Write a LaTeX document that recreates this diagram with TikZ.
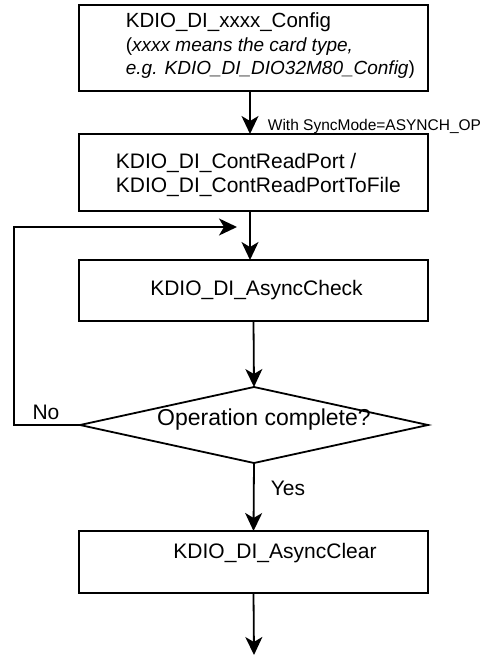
\documentclass[tikz,border=0pt]{standalone}
\usepackage{fontspec}
\setmainfont{Liberation Sans}
\usetikzlibrary{arrows.meta,shapes.geometric}
\begin{document}
\begin{tikzpicture}[x=1pt,y=1pt,
  line width=1.8pt,
  box/.style={draw,rectangle,minimum width=349pt,inner sep=0pt,outer sep=0pt},
  dec/.style={draw,diamond,minimum width=348pt,minimum height=76pt,inner sep=0pt,outer sep=0pt},
  txt/.style={inner sep=0pt,font=\fontsize{21}{24}\selectfont},
  arr/.style={-{Stealth[length=18pt,width=17pt,inset=5pt]}}]
\useasboundingbox (0,0) rectangle (483,-655);
% boxes
\node[box,minimum height=86pt] (b1) at (253.5,-48) {};
\node[box,minimum height=77pt] (b2) at (253.5,-172.5) {};
\node[box,minimum height=61pt] (b3) at (253.5,-290.5) {};
\node[dec] (d) at (254,-425) {};
\node[box,minimum height=62pt] (b4) at (253.5,-562) {};
\coordinate (end) at (254,-655);
\coordinate (fb) at (237,-227);
% texts
\node[txt,anchor=west,align=left,font=\fontsize{20.5}{23.5}\selectfont] (t1) at (125,-46)
  {KDIO\_DI\_xxxx\_Config\\{\fontsize{19}{23.5}\selectfont(\textit{xxxx means the card type,}}\\{\fontsize{19}{23.5}\selectfont\textit{e.g. KDIO\_DI\_DIO32M80\_Config})}};
\node[txt,anchor=west,align=left] (t2) at (115,-175)
  {KDIO\_DI\_ContReadPort /\\KDIO\_DI\_ContReadPortToFile};
\node[txt] (t3) at (256.5,-290) {KDIO\_DI\_AsyncCheck};
\node[txt,font=\fontsize{23}{26}\selectfont] (t4) at (264,-420) {Operation complete?};
\node[txt] (t5) at (275,-553) {KDIO\_DI\_AsyncClear};
\node[txt] (no) at (46,-412) {No};
\node[txt] (yes) at (288,-488) {Yes};
\node[inner sep=0pt,anchor=base west,font=\fontsize{15.5}{18}\selectfont] (sync) at (267,-131) {With SyncMode=ASYNCH\_OP};
% connectors
\draw[arr] ([xshift=-3.5pt]b1.south) -- ([xshift=-3.5pt]b2.north);
\draw[arr] ([xshift=-3.5pt]b2.south) -- ([xshift=-3.5pt]b3.north);
\draw[arr] (b3.south) -- (d.north);
\draw[arr] (d.south) -- (b4.south |- b4.north);
\draw[arr] (b4.south) -- (end);
\draw[arr] (d.west) -- (14,-425) |- (fb);
\end{tikzpicture}
\end{document}
